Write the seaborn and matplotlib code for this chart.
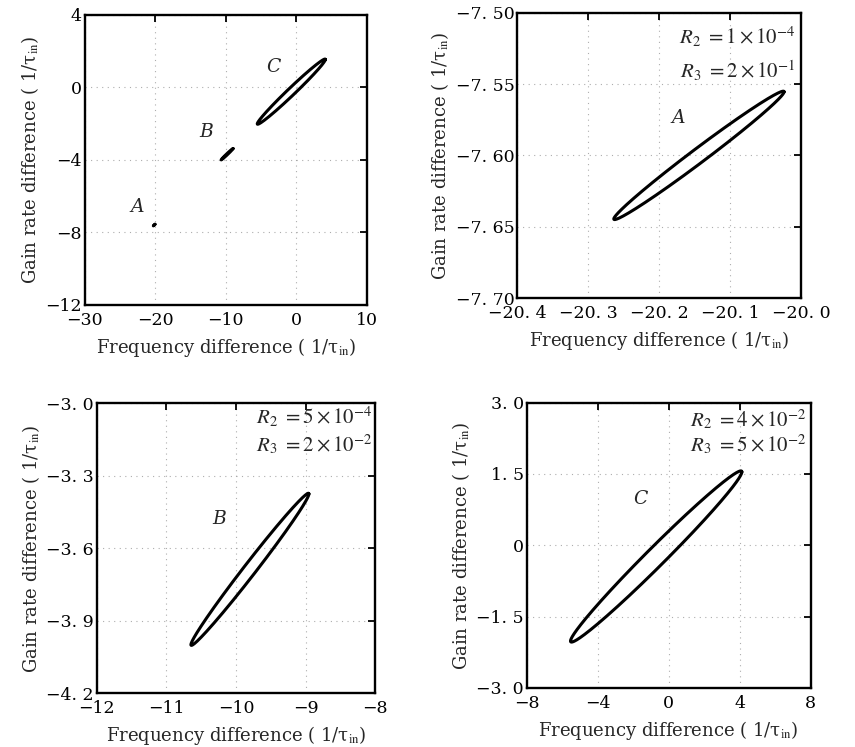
import numpy as np
import pandas as pd
import matplotlib
matplotlib.use("Agg")
import matplotlib.pyplot as plt
import seaborn as sns

sns.set_theme(style="white")
plt.rcParams['font.family'] = ['DejaVu Serif', 'Liberation Serif']
plt.rcParams['mathtext.fontset'] = 'stix'

# Ellipse parameters: centre, half-ranges, phase
curve_names = ["A", "B", "C"]
center_x = [-20.144, -9.80, -0.70]
center_y = [-7.600, -3.687, -0.235]
amp_x = [0.120, 0.847, 4.83]
amp_y = [0.045, 0.315, 1.80]
phase = [0.14, 0.13, 0.155]

# Panel settings
panel_xlim = [(-30, 10), (-20.4, -20.0), (-12, -8), (-8, 8)]
panel_ylim = [(-12, 4), (-7.70, -7.50), (-4.2, -3.0), (-3.0, 3.0)]
panel_xticks = [[-30, -20, -10, 0, 10],
                [-20.4, -20.3, -20.2, -20.1, -20.0],
                [-12, -11, -10, -9, -8],
                [-8, -4, 0, 4, 8]]
panel_xticklabels = [["−30", "−20", "−10", "0", "10"],
                     ["−20. 4", "−20. 3", "−20. 2", "−20. 1", "−20. 0"],
                     ["−12", "−11", "−10", "−9", "−8"],
                     ["−8", "−4", "0", "4", "8"]]
panel_yticks = [[-12, -8, -4, 0, 4],
                [-7.70, -7.65, -7.60, -7.55, -7.50],
                [-4.2, -3.9, -3.6, -3.3, -3.0],
                [-3.0, -1.5, 0, 1.5, 3.0]]
panel_yticklabels = [["−12", "−8", "−4", "0", "4"],
                     ["−7. 70", "−7. 65", "−7. 60", "−7. 55", "−7. 50"],
                     ["−4. 2", "−3. 9", "−3. 6", "−3. 3", "−3. 0"],
                     ["−3. 0", "−1. 5", "0", "1. 5", "3. 0"]]
panel_curves = [["A", "B", "C"], ["A"], ["B"], ["C"]]
panel_labels = [[("A", -22.6, -6.6), ("B", -12.8, -2.45), ("C", -3.2, 1.15)],
                [("A", -20.173, -7.574)],
                [("B", -10.24, -3.48)],
                [("C", -1.57, 0.98)]]
panel_r2 = [None, "$R_2\\ =1\\times10^{-4}$", "$R_2\\ =5\\times10^{-4}$", "$R_2\\ =4\\times10^{-2}$"]
panel_r3 = [None, "$R_3\\ =2\\times10^{-1}$", "$R_3\\ =2\\times10^{-2}$", "$R_3\\ =5\\times10^{-2}$"]
r_text_pos = [None, (0.98, 0.915, 0.795), (0.99, 0.955, 0.855), (0.985, 0.94, 0.853)]

positions = [[0.099, 0.592, 0.330, 0.388],
             [0.605, 0.601, 0.332, 0.382],
             [0.113, 0.072, 0.326, 0.388],
             [0.616, 0.079, 0.332, 0.382]]

xlabel = "Frequency difference ( 1/τ$_{\\mathrm{in}}$)"
ylabel = "Gain rate difference ( 1/τ$_{\\mathrm{in}}$)"

t = np.linspace(0, 2 * np.pi, 600)
curves = {}
for n, cx, cy, ax_, ay_, ph in zip(curve_names, center_x, center_y, amp_x, amp_y, phase):
    curves[n] = pd.DataFrame({"x": cx + ax_ * np.cos(t),
                              "y": cy + ay_ * np.cos(t + ph)})

fig = plt.figure(figsize=(8.55, 7.47), dpi=100)
fig.patch.set_facecolor("white")

for i in range(4):
    ax = fig.add_axes(positions[i])
    ax.set_facecolor("white")
    for n in panel_curves[i]:
        sns.lineplot(data=curves[n], x="x", y="y", sort=False, estimator=None,
                     color="black", lw=2.2, ax=ax, legend=False)
    ax.set_xlim(*panel_xlim[i])
    ax.set_ylim(*panel_ylim[i])
    ax.set_xticks(panel_xticks[i])
    ax.set_xticklabels(panel_xticklabels[i])
    ax.set_yticks(panel_yticks[i])
    ax.set_yticklabels(panel_yticklabels[i])
    ax.tick_params(direction="in", length=5, width=1.3, top=True, right=True,
                   labelsize=12.5, colors="black")
    ax.tick_params(axis="x", pad=5)
    ax.tick_params(axis="y", pad=2)
    ax.grid(True, linestyle=(0, (1, 4)), color="#999999", lw=0.8, alpha=0.8)
    for s in ax.spines.values():
        s.set_visible(True)
        s.set_color("black")
        s.set_linewidth(1.7)
    ax.set_xlabel(xlabel, fontsize=13, labelpad=5)
    ax.set_ylabel(ylabel, fontsize=13, labelpad=3)
    for lab, lx, ly in panel_labels[i]:
        ax.text(lx, ly, lab, fontsize=13.5, style="italic", ha="center", va="center")
    if panel_r2[i]:
        rx, ry2, ry3 = r_text_pos[i]
        ax.text(rx, ry2, panel_r2[i], transform=ax.transAxes, fontsize=15,
                ha="right", va="center")
        ax.text(rx, ry3, panel_r3[i], transform=ax.transAxes, fontsize=15,
                ha="right", va="center")

fig.savefig("out.png", dpi=100, facecolor="white")
